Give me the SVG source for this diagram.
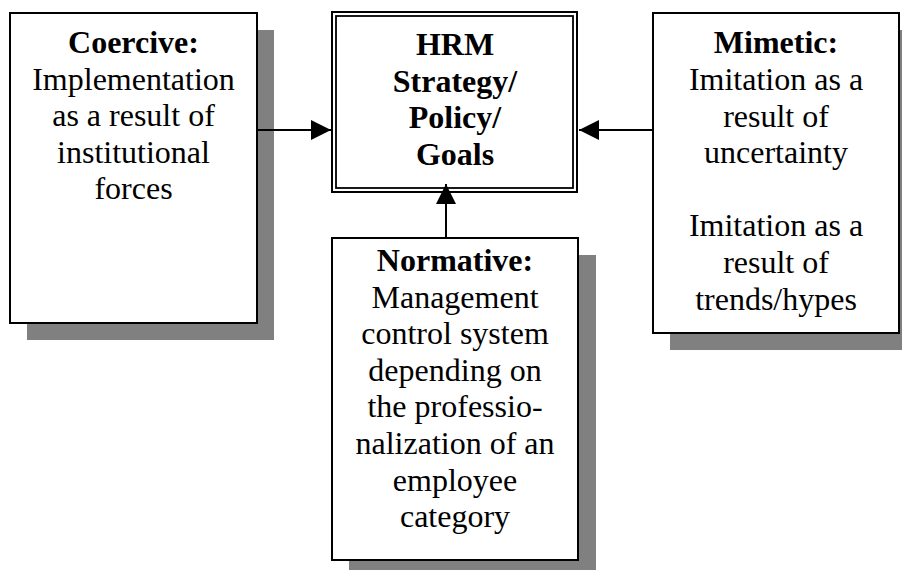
<svg xmlns="http://www.w3.org/2000/svg" width="902" height="570" viewBox="0 0 902 570">
<style>
.shadow{fill:#808080;stroke:none}
.box{fill:#fff;stroke:#000;stroke-width:2}
.t{font-family:"Liberation Serif","Times New Roman",serif;font-size:32px;fill:#000;text-anchor:middle}
.b{font-weight:bold}
.conn{stroke:#000;stroke-width:2;fill:none}
</style>
<defs>
<marker id="arrow" markerUnits="userSpaceOnUse" markerWidth="20" markerHeight="20" refX="20" refY="10" orient="auto">
<path d="M0,0 L20,10 L0,20 Z" fill="#000"/>
</marker>
</defs>
<rect width="902" height="570" fill="#fff"/>

<g id="coercive">
<rect class="shadow" x="27" y="30" width="247" height="310"/>
<rect class="box" x="10" y="13" width="247" height="310"/>
<text class="t" x="133.5" y="53.3"><tspan class="b">Coercive:</tspan><tspan x="133.5" dy="36.5">Implementation</tspan><tspan x="133.5" dy="36.5">as a result of</tspan><tspan x="133.5" dy="36.5">institutional</tspan><tspan x="133.5" dy="36.5">forces</tspan></text>
</g>

<g id="hrm">
<rect class="box" x="332" y="12" width="245" height="180" stroke-width="2.2"/>
<rect x="336" y="16" width="237" height="172" fill="none" stroke="#000" stroke-width="1.8"/>
<text class="t b" x="455" y="55"><tspan>HRM</tspan><tspan x="455" dy="36.7">Strategy/</tspan><tspan x="455" dy="36.7">Policy/</tspan><tspan x="455" dy="36.7">Goals</tspan></text>
</g>

<g id="mimetic">
<rect class="shadow" x="670" y="30" width="246" height="320"/>
<rect class="box" x="653" y="13" width="246" height="320"/>
<text class="t" x="776" y="53.3"><tspan class="b">Mimetic:</tspan><tspan x="776" dy="36.6">Imitation as a</tspan><tspan x="776" dy="36.6">result of</tspan><tspan x="776" dy="36.6">uncertainty</tspan><tspan x="776" dy="73.2">Imitation as a</tspan><tspan x="776" dy="36.6">result of</tspan><tspan x="776" dy="36.6">trends/hypes</tspan></text>
</g>

<g id="normative">
<rect class="shadow" x="349" y="255" width="247" height="322"/>
<rect class="box" x="332" y="238" width="246" height="322"/>
<text class="t" x="455" y="271"><tspan class="b">Normative:</tspan><tspan x="455" dy="36.6">Management</tspan><tspan x="455" dy="36.6">control system</tspan><tspan x="455" dy="36.6">depending on</tspan><tspan x="455" dy="36.6">the professio-</tspan><tspan x="455" dy="36.6">nalization of an</tspan><tspan x="455" dy="36.6">employee</tspan><tspan x="455" dy="36.6">category</tspan></text>
</g>

<g id="connectors">
<line class="conn" x1="258" y1="130" x2="331" y2="130" marker-end="url(#arrow)"/>
<line class="conn" x1="652" y1="130" x2="579" y2="130" marker-end="url(#arrow)"/>
<line class="conn" x1="446" y1="237" x2="446" y2="184" marker-end="url(#arrow)"/>
</g>
</svg>
